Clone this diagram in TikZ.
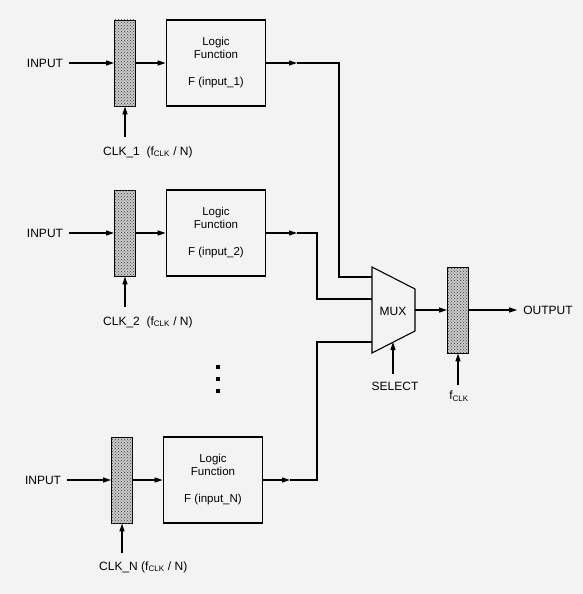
\documentclass[tikz,border=0pt]{standalone}
\usepackage{fontspec}
\setmainfont{Liberation Sans}
\usetikzlibrary{arrows.meta, positioning, patterns}
\definecolor{paper}{RGB}{243,243,243}
\definecolor{stipple}{RGB}{200,200,200}

\begin{document}
\begin{tikzpicture}[x=1pt, y=-1pt,
  reg/.style={rectangle, draw, fill=stipple, postaction={pattern=crosshatch dots, pattern color=black!75}, line width=0.9pt, minimum width=21pt, minimum height=86pt, inner sep=0pt},
  logic/.style={rectangle, draw, line width=1.8pt, align=center, minimum width=99pt, minimum height=86pt, inner sep=0pt, font=\fontsize{11.5}{13}\selectfont},
  lbl/.style={font=\fontsize{12}{14}\selectfont, inner xsep=6pt, inner ysep=2pt},
  arr/.style={-{Triangle[length=8pt, width=5pt]}, line width=1.1pt},
  wire/.style={line width=1.1pt}
]
  \fill[paper] (0,0) rectangle (583,594);
  \useasboundingbox (0,0) rectangle (583,594);

  % first channel
  \node[lbl] (in1) at (45,63) {INPUT};
  \node[reg] (reg1) at (125,63) {};
  \node[logic] (fn1) at (216,63) {Logic\\Function\\[14pt]F (input\_1)};
  \node[lbl, anchor=west] (clk1) at (97,152) {CLK\_1\ \ (f\textsubscript{CLK} / N)};
  \coordinate (clk1a) at (125,137);
  \coordinate (out1) at (297,63);
  \coordinate (b1) at (339,63);

  % second channel
  \node[lbl] (in2) at (45,233) {INPUT};
  \node[reg] (reg2) at (125,233) {};
  \node[logic] (fn2) at (216,233) {Logic\\Function\\[14pt]F (input\_2)};
  \node[lbl, anchor=west] (clk2) at (97,322) {CLK\_2\ \ (f\textsubscript{CLK} / N)};
  \coordinate (clk2a) at (125,307);
  \coordinate (out2) at (297,233);
  \coordinate (b2) at (317,233);

  % last channel
  \node[lbl] (inN) at (43,480) {INPUT};
  \node[reg] (regN) at (122,480) {};
  \node[logic] (fnN) at (213,480) {Logic\\Function\\[14pt]F (input\_N)};
  \node[lbl, anchor=west] (clkN) at (93,567) {CLK\_N (f\textsubscript{CLK} / N)};
  \coordinate (clkNa) at (122,553);
  \coordinate (outN) at (290,480);
  \coordinate (bN) at (317,480);

  % dots
  \fill (216,365) rectangle (220,369);
  \fill (216,377) rectangle (220,381);
  \fill (216,389) rectangle (220,393);

  % mux
  \draw[wire] (372,267) -- (415,289) -- (415,331) -- (372,353) -- cycle;
  \node[lbl] (mux) at (393,311) {MUX};
  \coordinate (m1) at (372,277);
  \coordinate (m2) at (372,299);
  \coordinate (m3) at (372,342);
  \coordinate (mo) at (415,310);
  \coordinate (ms) at (393,342);
  \node[lbl] (sel) at (395,386) {SELECT};
  \coordinate (sela) at (393,374);

  % output register
  \node[reg] (oreg) at (458,310) {};
  \node[lbl] (outp) at (548,310) {OUTPUT};
  \node[lbl] (fclk) at (459,396) {f\textsubscript{CLK}};
  \coordinate (fclka) at (458,385);

  \draw[arr] (in1) -- (reg1);
  \draw[arr] (reg1) -- (fn1);
  \draw[arr] (clk1a) -- (reg1.south);
  \draw[arr] (fn1.east) -- (out1);
  \draw[wire] (out1) -- (b1) |- (m1);

  \draw[arr] (in2) -- (reg2);
  \draw[arr] (reg2) -- (fn2);
  \draw[arr] (clk2a) -- (reg2.south);
  \draw[arr] (fn2.east) -- (out2);
  \draw[wire] (out2) -- (b2) |- (m2);

  \draw[arr] (inN) -- (regN);
  \draw[arr] (regN) -- (fnN);
  \draw[arr] (clkNa) -- (regN.south);
  \draw[arr] (fnN.east) -- (outN);
  \draw[wire] (outN) -- (bN) |- (m3);

  \draw[arr] (mo) -- (oreg);
  \draw[arr] (sela) -- (ms);
  \draw[arr] (oreg) -- (outp);
  \draw[arr] (fclka) -- (oreg.south);
\end{tikzpicture}
\end{document}
